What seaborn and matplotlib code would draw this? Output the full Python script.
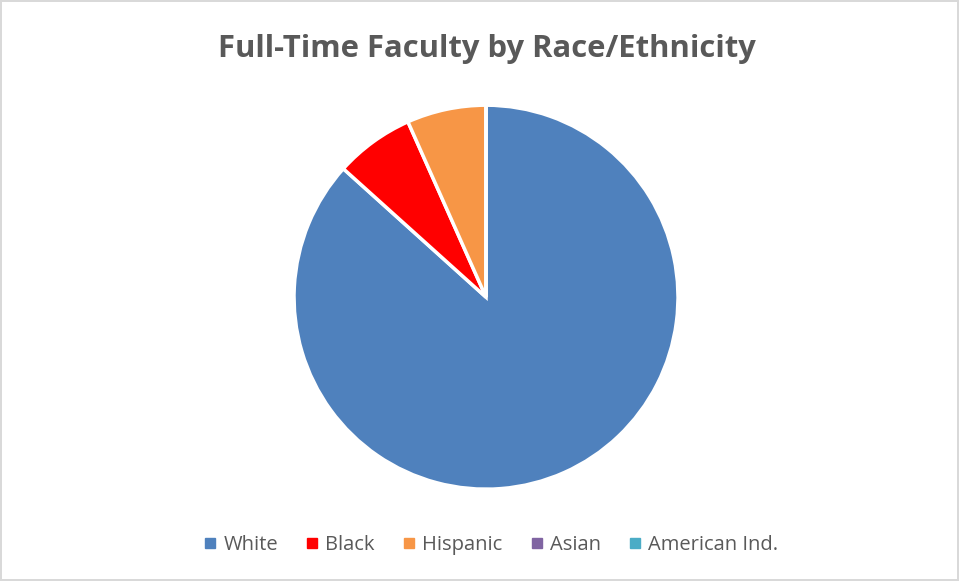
import matplotlib
matplotlib.use("Agg")
import matplotlib.pyplot as plt
import seaborn as sns
from matplotlib.lines import Line2D

categories = ["White", "Black", "Hispanic", "Asian", "American Ind."]
values = [13, 1, 1, 0, 0]
colors = ["#4F81BD", "#FF0000", "#F79646", "#8064A2", "#4BACC6"]
title = "Full-Time Faculty by Race/Ethnicity"

sns.set_theme(style="white")
plt.rcParams['font.family'] = ['Open Sans', 'DejaVu Sans']
palette = sns.color_palette(colors)

fig = plt.figure(figsize=(9.59, 5.81), dpi=100)
fig.patch.set_facecolor("white")
fig.patch.set_edgecolor("#D9D9D9")
fig.patch.set_linewidth(1.5)

ax = fig.add_axes([0.3066, 0.158, 0.4004, 0.661])
ax.pie(values, colors=palette, startangle=90, counterclock=False,
       wedgeprops=dict(edgecolor="white", linewidth=2.5))
ax.set_xlim(-1.0, 1.0)
ax.set_ylim(-1.0, 1.0)
ax.set_aspect("equal")

fig.text(0.508, 0.915, title, ha="center", va="center", fontsize=22.3,
         fontweight="bold", color="#595959")

handles = [Line2D([0], [0], marker="s", linestyle="", markersize=7,
                  markerfacecolor=c, markeredgecolor=c) for c in palette]
leg = fig.legend(handles, categories, loc="center", bbox_to_anchor=(0.51, 0.062),
                 ncol=5, frameon=False, fontsize=14.5, handletextpad=0.15,
                 columnspacing=1.2, handlelength=1.0)
for t in leg.get_texts():
    t.set_color("#595959")

fig.savefig("out.png", dpi=100, facecolor=fig.get_facecolor(), edgecolor=fig.get_edgecolor())
